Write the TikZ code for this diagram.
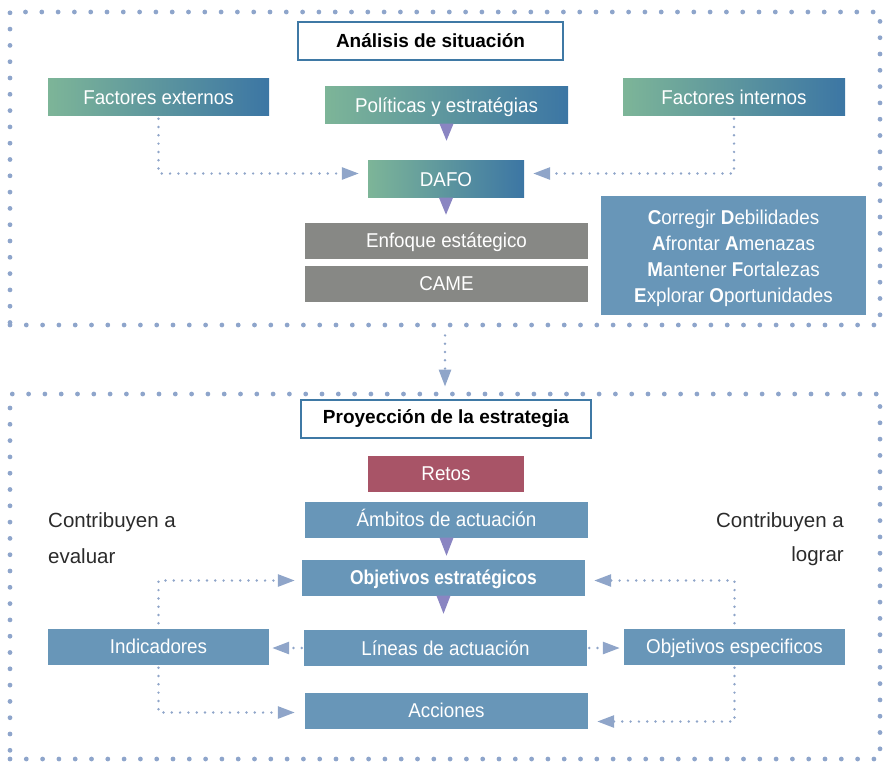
\documentclass[tikz,border=0pt]{standalone}
\usepackage{fontspec}
\setmainfont{Liberation Sans}
\newfontfamily\boxfont{Liberation Sans}[FakeStretch=0.94]
\newfontfamily\boldboxfont{Liberation Sans}[FakeStretch=0.87]
\usetikzlibrary{arrows.meta,calc}

\definecolor{dotc}{HTML}{8EA5CB}
\definecolor{arrc}{HTML}{8FA5C9}
\definecolor{gl}{HTML}{7DB598}
\definecolor{gr}{HTML}{3C76A4}
\definecolor{grayc}{HTML}{878885}
\definecolor{bluec}{HTML}{6896B8}
\definecolor{retoc}{HTML}{A85467}
\definecolor{titc}{HTML}{3F79A5}
\definecolor{purp}{HTML}{8A85C2}
\definecolor{labc}{HTML}{2B2B2B}

\tikzset{
  boxbase/.style={rectangle, inner sep=0pt, minimum height=36pt, text=white,
    text height=14.4pt, text depth=0pt,
    font=\boxfont\fontsize{20}{24}\selectfont},
  gradbox/.style={boxbase, minimum width=#1, minimum height=37pt, left color=gl, right color=gr},
  graybox/.style={boxbase, minimum width=#1, fill=grayc},
  bluebox/.style={boxbase, minimum width=#1, fill=bluec},
  retobox/.style={boxbase, minimum width=#1, fill=retoc},
  titlebox/.style={rectangle, inner sep=0pt, minimum width=#1, minimum height=38pt,
    draw=titc, line width=2pt, fill=white, text=black,
    font=\bfseries\fontsize{19}{23}\selectfont},
  frame/.style={rectangle, inner sep=0pt, draw=dotc, line width=4.8pt,
    dash pattern=on 0pt off 16.3pt, line cap=round},
  conn/.style={draw=arrc, line width=2.7pt, dash pattern=on 0pt off 8.3pt, line cap=round,
    -{Triangle[length=17pt,width=12pt]}},
  lbl/.style={inner sep=0pt, text=labc, font=\fontsize{20.5}{24}\selectfont},
}

\begin{document}
\begin{tikzpicture}[x=1pt,y=-1pt]
\useasboundingbox (0,0) rectangle (885,763);

% dotted frames of the two stages
\node[frame, minimum width=870pt, minimum height=313pt] (upper) at (445,168.5) {};
\node[frame, minimum width=870pt, minimum height=365pt] (lower) at (445,576.5) {};

% ---------- situation analysis ----------
\node[titlebox=265pt] (t1) at (430.5,41) {Análisis de situación};
\node[gradbox=221pt] (fe) at (158.5,97) {Factores externos};
\node[gradbox=243pt] (pol) at (446.5,105) {Políticas y estratégias};
\node[gradbox=222pt] (fi) at (734,97) {Factores internos};
\node[gradbox=156pt] (dafo) at (446,179) {DAFO};
\node[graybox=283pt] (enf) at (446.5,240.5) {Enfoque estátegico};
\node[graybox=283pt] (came) at (446.5,283.5) {CAME};
\node[bluebox=265pt, minimum height=119pt] (cdfa) at (733.5,255.5) {};
\node[inner sep=0pt, align=center, text=white,
      font=\boxfont\fontsize{20}{26}\selectfont] (cdfatext) at ([yshift=-3pt]cdfa.center)
  {{\bfseries C}orregir {\bfseries D}ebilidades\\
   {\bfseries A}frontar {\bfseries A}menazas\\
   {\bfseries M}antener {\bfseries F}ortalezas\\
   {\bfseries E}xplorar {\bfseries O}portunidades};

\fill[purp] (pol.south) ++(-7,0) -- ++(14,0) -- ++(-7,17) -- cycle;
\fill[purp] (dafo.south) ++(-7,0) -- ++(14,0) -- ++(-7,17) -- cycle;

\draw[conn] ([yshift=-3pt]fe.south) |- ([xshift=-9pt,yshift=5.5pt]dafo.west);
\draw[conn] ([yshift=-3pt]fi.south) |- ([xshift=9pt,yshift=5.5pt]dafo.east);

% link between stages
\draw[conn, shorten <=8pt, shorten >=5pt] (upper.south) -- (lower.north);

% ---------- strategy projection ----------
\node[titlebox=290pt] (t2) at (446,419) {Proyección de la estrategia};
\node[retobox=156pt] (retos) at (446,473.5) {Retos};
\node[bluebox=283pt] (amb) at (446.5,519.5) {Ámbitos de actuación};
\node[bluebox=283pt, font=\boldboxfont\bfseries\fontsize{20}{24}\selectfont] (obj) at (443.5,577.5) {Objetivos estratégicos};
\node[bluebox=283pt] (lin) at (445.5,648) {Líneas de actuación};
\node[bluebox=283pt] (acc) at (446.5,710.5) {Acciones};
\node[bluebox=221pt] (ind) at (158.5,646.5) {Indicadores};
\node[bluebox=221pt] (oes) at (734.5,646.5) {Objetivos especificos};

\fill[purp] (amb.south) ++(-7,0) -- ++(14,0) -- ++(-7,18) -- cycle;
\fill[purp] (obj.south) ++(-7,0) -- ++(14,0) -- ++(-7,18) -- cycle;

\node[lbl, anchor=west] (cl1) at (48,522) {Contribuyen a};
\node[lbl, anchor=west] (cl2) at (48,556) {evaluar};
\node[lbl, anchor=east] (cr1) at (844,522) {Contribuyen a};
\node[lbl, anchor=east] (cr2) at (844,556) {lograr};

\draw[conn] ([yshift=5pt]ind.north) |- ([xshift=-7pt,yshift=-3pt]obj.west);
\draw[conn] ([yshift=-3pt]ind.south) |- ([xshift=-10pt,yshift=-2pt]acc.west);
\draw[conn, shorten <=2pt, shorten >=3pt] (lin.west) -- (lin.west -| ind.east);
\draw[conn, shorten <=2pt, shorten >=4pt] (lin.east) -- (lin.east -| oes.west);
\draw[conn] ([yshift=5pt]oes.north) |- ([xshift=9pt,yshift=-3pt]obj.east);
\draw[conn] ([yshift=-3pt]oes.south) |- ([xshift=9pt,yshift=-11pt]acc.east);
\end{tikzpicture}
\end{document}
